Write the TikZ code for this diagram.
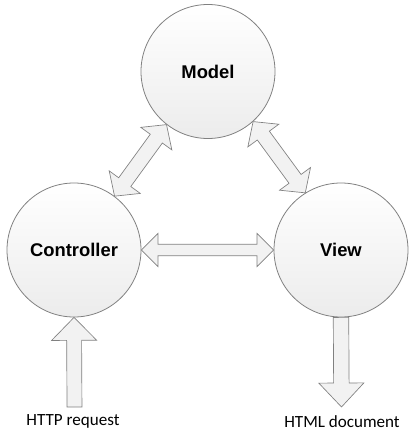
\documentclass[tikz,border=0pt]{standalone}
\usepackage{fontspec}
\setmainfont{Carlito}
\newfontfamily\labelfont{Liberation Sans}
\usetikzlibrary{calc}

\definecolor{edgegray}{RGB}{128,128,128}
\definecolor{arrowfill}{RGB}{242,242,242}

\tikzset{every picture/.style={line width=0.6pt}}
\tikzset{
  mvcnode/.style={circle,draw=edgegray,top color=white,bottom color=gray!15,
    minimum size=100.5pt,inner sep=0pt,font=\labelfont\bfseries\fontsize{13.8}{16}\selectfont},
  fatline/.style={draw=edgegray,fill=arrowfill,line width=0.5pt,line join=miter},
  caption/.style={inner sep=0.75pt,font=\fontsize{12.8}{15}\selectfont}
}
% #1,#2 end points, #3 half shaft, #4 half head, #5 head length
\newcommand\twowayarrow[5]{%
  \path[fatline] (#1) -- ($($(#1)!#5!(#2)$)!#4!90:(#2)$) -- ($($(#1)!#5!(#2)$)!#3!90:(#2)$)
    -- ($($(#2)!#5!(#1)$)!#3!-90:(#1)$) -- ($($(#2)!#5!(#1)$)!#4!-90:(#1)$) -- (#2)
    -- ($($(#2)!#5!(#1)$)!#4!90:(#1)$) -- ($($(#2)!#5!(#1)$)!#3!90:(#1)$)
    -- ($($(#1)!#5!(#2)$)!#3!-90:(#2)$) -- ($($(#1)!#5!(#2)$)!#4!-90:(#2)$) -- cycle;}
\newcommand\oneway[5]{%
  \path[fatline] ($(#1)!#3!90:(#2)$) -- ($($(#2)!#5!(#1)$)!#3!-90:(#1)$)
    -- ($($(#2)!#5!(#1)$)!#4!-90:(#1)$) -- (#2) -- ($($(#2)!#5!(#1)$)!#4!90:(#1)$)
    -- ($($(#2)!#5!(#1)$)!#3!90:(#1)$) -- ($(#1)!#3!-90:(#2)$) -- cycle;}

\begin{document}
\begin{tikzpicture}[x=0.75pt,y=0.75pt,yscale=-1,xscale=1]
\useasboundingbox (0,0) rectangle (416,432);

% Text Node
\node [mvcnode] (model) at (208,71.5) {Model};
% Text Node
\node [mvcnode] (ctrl) at (74,250) {Controller};
% Text Node
\node [mvcnode] (view) at (341,250) {View};
% Text Node
\node [caption] (req) at (73,421.5) {HTTP request};
% Text Node
\node [caption] (doc) at (342,421.5) {HTML document};
\coordinate (reqend) at (74.5,407);
\coordinate (docend) at (341.5,407);

% Connection
\twowayarrow{ctrl.53}{model.232}{5.6pt}{14.4pt}{13pt}
% Connection
\twowayarrow{model.-48}{view.122}{5.6pt}{14.4pt}{13pt}
% Connection
\twowayarrow{ctrl.east}{view.west}{4.3pt}{12.4pt}{12.4pt}
% Connection
\oneway{reqend}{ctrl.south}{5.6pt}{16.9pt}{17.2pt}
% Connection
\oneway{view.south}{docend}{5.8pt}{16.9pt}{18pt}

\end{tikzpicture}
\end{document}
